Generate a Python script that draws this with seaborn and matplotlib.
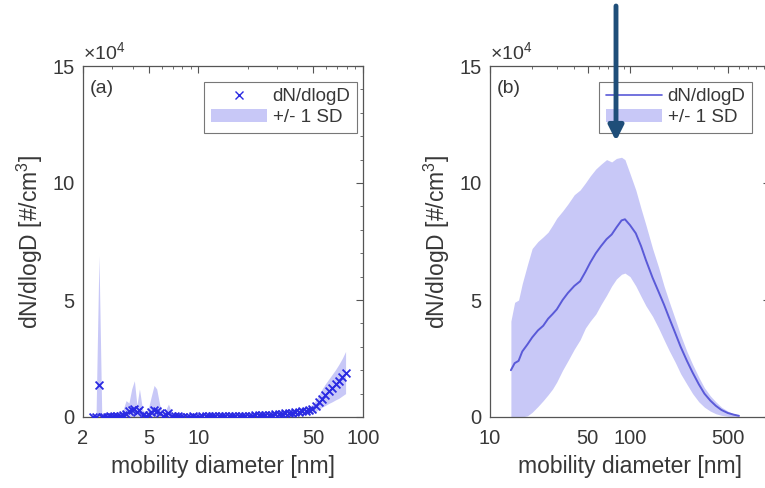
import numpy as np
import pandas as pd
import matplotlib
matplotlib.use("Agg")
import matplotlib.pyplot as plt
import seaborn as sns
from matplotlib.lines import Line2D
from matplotlib.patches import Patch, FancyArrowPatch
from matplotlib.ticker import LogLocator, MultipleLocator, NullFormatter

# ---------------- data (values in units of 1e4 #/cm3) ----------------
diam_a = [2.3, 2.4, 2.5, 2.6, 2.7, 2.8, 2.9, 3.0, 3.1, 3.2, 3.35, 3.5, 3.65, 3.8, 3.95,
          4.1, 4.25, 4.4, 4.6, 4.8, 5.0, 5.2, 5.4, 5.6, 5.85, 6.1, 6.35, 6.6, 6.9, 7.2,
          7.5, 7.8, 8.1, 8.5, 8.9, 9.3, 9.7, 10.1, 10.6, 11.1, 11.6, 12.1, 12.7, 13.3,
          13.9, 14.6, 15.3, 16.0, 16.8, 17.6, 18.4, 19.3, 20.2, 21.2, 22.2, 23.3, 24.4,
          25.6, 26.8, 28.1, 29.4, 30.8, 32.3, 33.8, 35.4, 37.1, 38.9, 40.8, 42.7, 44.8,
          46.9, 49.1, 51.5, 54.0, 56.5, 59.2, 62.0, 65.0, 68.1, 71.4, 74.8, 78.4]
mean_a = [0.02, 0.02, 1.35, 0.02, 0.02, 0.02, 0.03, 0.02, 0.03, 0.03, 0.05, 0.08, 0.12, 0.25, 0.30,
          0.35, 0.20, 0.30, 0.10, 0.05, 0.10, 0.20, 0.30, 0.25, 0.15, 0.05, 0.10, 0.15, 0.05, 0.03,
          0.03, 0.02, 0.02, 0.02, 0.02, 0.03, 0.02, 0.02, 0.03, 0.03, 0.03, 0.03, 0.03, 0.04,
          0.04, 0.04, 0.04, 0.05, 0.05, 0.05, 0.05, 0.05, 0.06, 0.06, 0.07, 0.07, 0.08,
          0.08, 0.09, 0.10, 0.11, 0.12, 0.13, 0.15, 0.16, 0.18, 0.20, 0.22, 0.24, 0.27,
          0.30, 0.34, 0.45, 0.62, 0.78, 0.95, 1.10, 1.25, 1.40, 1.55, 1.70, 1.90]
upper_a = [0.05, 0.08, 6.90, 0.06, 0.05, 0.05, 0.06, 0.05, 0.07, 0.08, 0.15, 0.30, 0.70, 0.60, 1.20,
           1.55, 0.50, 1.20, 0.30, 0.20, 0.40, 0.90, 1.35, 1.20, 0.50, 0.20, 0.30, 0.55, 0.20, 0.08,
           0.07, 0.05, 0.05, 0.05, 0.05, 0.06, 0.05, 0.05, 0.06, 0.06, 0.06, 0.06, 0.07, 0.07,
           0.08, 0.08, 0.08, 0.09, 0.09, 0.10, 0.10, 0.10, 0.11, 0.12, 0.13, 0.14, 0.15,
           0.16, 0.17, 0.19, 0.21, 0.23, 0.25, 0.27, 0.29, 0.32, 0.35, 0.38, 0.41, 0.44,
           0.48, 0.52, 0.70, 0.95, 1.20, 1.42, 1.62, 1.82, 2.02, 2.25, 2.50, 2.80]
lower_a = [0.0, 0.0, 0.0, 0.0, 0.0, 0.0, 0.0, 0.0, 0.0, 0.0, 0.0, 0.0, 0.0, 0.0, 0.0,
           0.0, 0.0, 0.0, 0.0, 0.0, 0.0, 0.0, 0.0, 0.0, 0.0, 0.0, 0.0, 0.0, 0.0, 0.0,
           0.0, 0.0, 0.0, 0.0, 0.0, 0.0, 0.0, 0.0, 0.0, 0.0, 0.0, 0.0, 0.0, 0.0,
           0.0, 0.0, 0.0, 0.0, 0.0, 0.0, 0.0, 0.0, 0.01, 0.01, 0.01, 0.01, 0.02,
           0.02, 0.02, 0.02, 0.03, 0.03, 0.03, 0.04, 0.05, 0.06, 0.07, 0.08, 0.09, 0.10,
           0.12, 0.15, 0.22, 0.33, 0.42, 0.50, 0.58, 0.65, 0.73, 0.80, 0.90, 1.00]

diam_b = [14.1, 15, 16, 17, 18.5, 20, 22, 24, 26, 28, 30, 33, 36, 40, 44, 48, 52, 57, 62, 68,
          74, 80, 87, 92, 100, 110, 120, 130, 145, 160, 175, 190, 210, 230, 255, 280, 310,
          340, 375, 410, 450, 500, 550, 600]
mean_b = [2.0, 2.3, 2.4, 2.8, 3.1, 3.4, 3.7, 3.9, 4.2, 4.4, 4.6, 5.0, 5.3, 5.6, 5.8, 6.2, 6.6,
          7.0, 7.3, 7.6, 7.8, 8.1, 8.4, 8.45, 8.2, 7.85, 7.3, 6.7, 5.95, 5.35, 4.8, 4.25, 3.6,
          3.0, 2.4, 1.9, 1.4, 1.0, 0.7, 0.48, 0.3, 0.17, 0.1, 0.05]
upper_b = [4.1, 4.9, 5.0, 5.7, 6.5, 7.2, 7.5, 7.7, 7.9, 8.2, 8.5, 8.8, 9.1, 9.5, 9.7, 10.0,
           10.3, 10.6, 10.8, 11.0, 10.9, 11.05, 11.1, 11.0, 10.4, 9.7, 8.9, 8.2, 7.2, 6.4,
           5.6, 4.95, 4.2, 3.5, 2.8, 2.25, 1.7, 1.25, 0.9, 0.65, 0.42, 0.25, 0.14, 0.08]
lower_b = [0.0, 0.0, 0.0, 0.0, 0.05, 0.2, 0.45, 0.7, 0.95, 1.2, 1.5, 2.0, 2.4, 2.9, 3.3, 3.8,
           4.1, 4.4, 4.8, 5.2, 5.6, 5.9, 6.1, 6.15, 6.0, 5.6, 5.15, 4.75, 4.3, 3.8, 3.3, 2.85,
           2.35, 1.85, 1.4, 1.0, 0.65, 0.42, 0.25, 0.14, 0.07, 0.03, 0.01, 0.0]

xticks_a = [2, 5, 10, 50, 100]
xticks_b = [10, 50, 100, 500]
yticks = [0, 5, 10, 15]
scale = 1e4

df_a = pd.DataFrame({"d": diam_a, "m": np.array(mean_a) * scale,
                     "hi": np.array(upper_a) * scale, "lo": np.array(lower_a) * scale})
df_b = pd.DataFrame({"d": diam_b, "m": np.array(mean_b) * scale,
                     "hi": np.array(upper_b) * scale, "lo": np.array(lower_b) * scale})

# ---------------- style ----------------
sns.set_theme(style="white")
plt.rcParams["font.family"] = ["Liberation Sans", "DejaVu Sans"]
plt.rcParams["mathtext.fontset"] = "custom"
plt.rcParams["mathtext.rm"] = "Liberation Sans"
plt.rcParams["mathtext.it"] = "Liberation Sans"

txt = "#383838"
fill_c = "#c8c8f7"
mark_c = "#2a2ae2"
line_c = "#5a5ad8"

fig = plt.figure(figsize=(7.65, 4.88), dpi=100)
bottom, top = 1 - 417 / 488, 1 - 66 / 488
ax_a = fig.add_axes([83 / 765, bottom, 280 / 765, top - bottom])
ax_b = fig.add_axes([490 / 765, bottom, 280 / 765, top - bottom])

# panel (a)
ax_a.fill_between(df_a["d"], df_a["lo"], df_a["hi"], color=fill_c, lw=0, zorder=1)
sns.scatterplot(data=df_a, x="d", y="m", ax=ax_a, marker="x", color=mark_c, s=32,
                linewidth=1.3, zorder=3, legend=False)

# panel (b)
ax_b.fill_between(df_b["d"], df_b["lo"], df_b["hi"], color=fill_c, lw=0, zorder=1)
sns.lineplot(data=df_b, x="d", y="m", ax=ax_b, color=line_c, lw=1.4, zorder=3,
             legend=False)

for ax, xl, xt, lab in [(ax_a, (2, 100), xticks_a, "(a)"), (ax_b, (10, 1000), xticks_b, "(b)")]:
    ax.set_xscale("log")
    ax.set_xlim(*xl)
    ax.set_ylim(0, 15e4)
    ax.set_xticks(xt)
    ax.set_xticklabels([str(v) for v in xt])
    ax.xaxis.set_minor_locator(LogLocator(base=10, subs=np.arange(2, 10), numticks=20))
    ax.xaxis.set_minor_formatter(NullFormatter())
    ax.set_yticks([v * scale for v in yticks])
    ax.set_yticklabels([str(v) for v in yticks])
    ax.yaxis.set_minor_locator(MultipleLocator(1e4))
    ax.tick_params(which="both", direction="in", top=True, right=True, colors="#555555",
                   labelcolor=txt, labelsize=14.5)
    ax.tick_params(which="major", length=5, width=0.8)
    ax.tick_params(axis="x", which="major", pad=9)
    ax.tick_params(axis="y", which="major", pad=6)
    ax.tick_params(which="minor", length=2.5, width=0.6)
    for s in ax.spines.values():
        s.set_color("#555555")
        s.set_linewidth(0.9)
    ax.set_xlabel("mobility diameter [nm]", fontsize=16.5, color=txt, labelpad=5)
    ax.set_ylabel("dN/dlogD [#/cm$^3$]", fontsize=16.5, color=txt, labelpad=5)
    ax.text(0.025, 0.96, lab, transform=ax.transAxes, ha="left", va="top",
            fontsize=14, color=txt)
    ax.text(0.0, 1.008, "×10$^4$", transform=ax.transAxes, ha="left", va="bottom",
            fontsize=14, color=txt)

leg_fill = Patch(facecolor=fill_c, edgecolor="none", label="+/- 1 SD")
h_a = [Line2D([], [], ls="none", marker="x", color=mark_c, markersize=6, mew=1.0,
              label="dN/dlogD"), leg_fill]
h_b = [Line2D([], [], color=line_c, lw=1.2, label="dN/dlogD"), leg_fill]

for ax, h, anchor in [(ax_a, h_a, (0.979, 0.955)), (ax_b, h_b, (0.936, 0.955))]:
    leg = ax.legend(handles=h, loc="upper right", bbox_to_anchor=anchor, fontsize=13.5,
                    frameon=True, fancybox=False, handlelength=3.0, handletextpad=0.3,
                    labelspacing=0.2, borderpad=0.35, borderaxespad=0.0,
                    labelcolor=txt, markerfirst=True)
    leg.get_frame().set_edgecolor("#555555")
    leg.get_frame().set_linewidth(0.8)

# arrow over panel (b)
fig.add_artist(FancyArrowPatch(
    (616 / 765, 1 - 6 / 488), (616 / 765, 1 - 141 / 488), transform=fig.transFigure,
    arrowstyle="-|>", mutation_scale=22, lw=3.5, color="#1f4e79", zorder=10,
    shrinkA=0, shrinkB=0))

fig.savefig("out.png", dpi=100)
